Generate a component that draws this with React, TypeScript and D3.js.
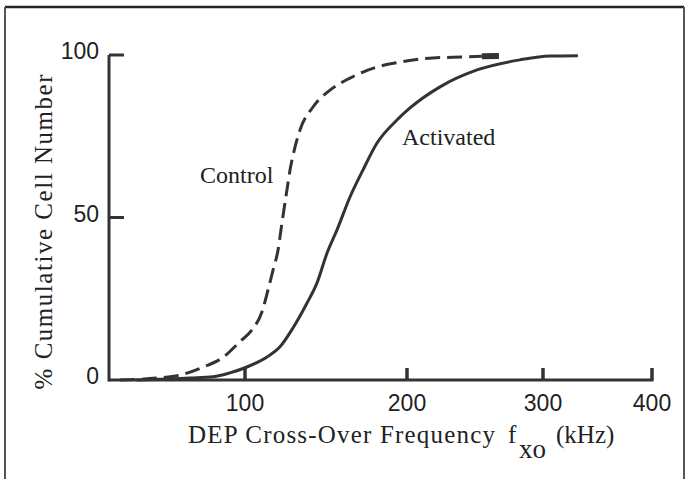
import React from "react";
import * as d3 from "d3";

// Cumulative distributions of DEP cross-over frequency (kHz → % of cells)
const controlFreq = [31, 51.5, 64, 77, 88, 97, 104.3, 110.5, 114.2, 117.3, 120.4, 122.8, 125.9, 127.8, 130.9, 134, 142, 152.5, 164.8, 181.5, 195.7, 219, 244, 255, 267.6];
const controlPct = [0, 0.6, 1.5, 4, 7, 11.7, 15.4, 21, 27.7, 33.8, 40, 48.3, 58.5, 64.6, 71.7, 77, 84, 89.2, 92.9, 96.3, 97.8, 99.1, 99.4, 99.6, 99.7];

const activatedFreq = [40, 69.7, 82.4, 91.7, 101.2, 113.6, 121.6, 129.6, 138.3, 144.4, 150.6, 156.8, 164.8, 172.8, 181.5, 193.8, 202.2, 224.3, 251.5, 283, 306.4, 332];
const activatedPct = [0, 0.6, 1.0, 2.2, 4, 7.1, 10.2, 16, 23.7, 29.8, 39, 46.2, 56.3, 64.6, 72.9, 80, 83.7, 90.2, 95.4, 98.5, 99.7, 99.8];

// Axis breakpoints: the frequency axis is hand-spaced, so it is piecewise linear
const xBreaks = [25, 100, 200, 300, 400];
const xTicks = [100, 200, 300, 400];
const yTicks = [0, 50, 100];

const W = 689;
const H = 479;
const INK = "#333";
const SERIF = "Liberation Serif, DejaVu Serif, serif";
const SANS = "Liberation Sans, Arimo, sans-serif";

export default function App() {
  const x = d3.scaleLinear().domain(xBreaks).range([109, 245, 407, 543, 652]);
  const y = d3.scaleLinear().domain([0, 100]).range([380, 55]);

  const control = controlFreq.map((f, i) => [f, controlPct[i]] as [number, number]);
  const activated = activatedFreq.map((f, i) => [f, activatedPct[i]] as [number, number]);

  const line = d3
    .line<[number, number]>()
    .x((d) => x(d[0]))
    .y((d) => y(d[1]))
    .curve(d3.curveMonotoneX);

  const controlBody = control.slice(0, control.length - 1);
  const controlTail = control.slice(control.length - 2);

  const x0 = x(xBreaks[0]);
  const xEnd = x(xTicks[xTicks.length - 1]);

  return (
    <svg
      width={W}
      height={H}
      style={{ position: "absolute", left: 0, top: 0, background: "#fff" }}
    >
      {/* frame */}
      <line x1={5} y1={7} x2={684} y2={7} stroke="#222" strokeWidth={2.5} />
      <line x1={5} y1={7} x2={5} y2={H} stroke="#555" strokeWidth={2} />
      <line x1={684} y1={7} x2={684} y2={H} stroke="#555" strokeWidth={2} />

      {/* y axis */}
      <line x1={x0} y1={y(100)} x2={x0} y2={y(0) + 1.5} stroke={INK} strokeWidth={3} />
      {yTicks.map((t) => (
        <g key={"yt" + t}>
          {t > 0 && (
            <line x1={x0} y1={y(t)} x2={x0 + 15} y2={y(t)} stroke={INK} strokeWidth={3} />
          )}
          <text x={99} y={y(t) + 4} textAnchor="end" fontFamily={SANS} fontSize={23} fill="#222">
            {t}
          </text>
        </g>
      ))}

      {/* x axis */}
      <line x1={x0} y1={y(0)} x2={xEnd + 1.5} y2={y(0)} stroke={INK} strokeWidth={3} />
      {xTicks.map((t) => (
        <g key={"xt" + t}>
          <line x1={x(t)} y1={y(0)} x2={x(t)} y2={y(0) - 12} stroke={INK} strokeWidth={3.5} />
          <text x={x(t)} y={411} textAnchor="middle" fontFamily={SANS} fontSize={23} fill="#222">
            {t}
          </text>
        </g>
      ))}

      {/* curves */}
      <path
        d={line(controlBody) || ""}
        fill="none"
        stroke={INK}
        strokeWidth={3}
        strokeDasharray="15 7"
      />
      <path d={line(controlTail) || ""} fill="none" stroke={INK} strokeWidth={6} />
      <path d={line(activated) || ""} fill="none" stroke={INK} strokeWidth={3} strokeLinejoin="round" />

      {/* series labels */}
      <text x={200} y={183} fontFamily={SERIF} fontSize={24} fill="#222">
        Control
      </text>
      <text x={402} y={145} fontFamily={SERIF} fontSize={24} fill="#222">
        Activated
      </text>

      {/* axis titles */}
      <text x={188} y={443} fontFamily={SERIF} fontSize={25} fill="#222" textLength={307} lengthAdjust="spacing">
        DEP Cross-Over Frequency
      </text>
      <text x={508} y={443} fontFamily={SERIF} fontSize={25} fill="#222">
        f
      </text>
      <text x={519} y={458} fontFamily={SERIF} fontSize={27} fill="#222">
        xo
      </text>
      <text x={556} y={443} fontFamily={SERIF} fontSize={25} fill="#222">
        (kHz)
      </text>
      <text
        transform="translate(52,232) rotate(-90)"
        textAnchor="middle"
        fontFamily={SERIF}
        fontSize={25}
        fill="#222"
        textLength={315}
        lengthAdjust="spacing"
      >
        % Cumulative Cell Number
      </text>
    </svg>
  );
}
